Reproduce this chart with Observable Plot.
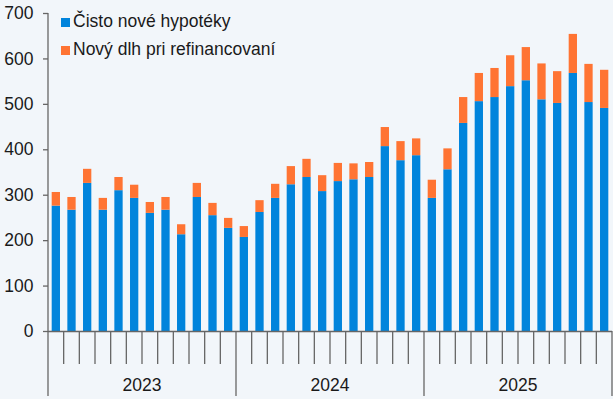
<!DOCTYPE html>
<html>
<head>
<meta charset="utf-8">
<script src="https://cdn.jsdelivr.net/npm/d3@7"></script>
<script src="https://cdn.jsdelivr.net/npm/@observablehq/plot@0.6"></script>
<style>
  html, body { margin: 0; padding: 0; background: #f2f6fa; }
  #wrap { position: relative; width: 613px; height: 399px; font-family: "Liberation Sans", Arial, sans-serif; }
  #legend { position: absolute; left: 61px; top: 7px; font-size: 17.5px; color: #1a1a1a; line-height: 28px; z-index: 2; }
  #legend .sw { display: inline-block; width: 9px; height: 9px; margin-right: 3px; vertical-align: 0px; }
</style>
</head>
<body>
<div id="wrap"><div id="legend"></div></div>
<script>
const years = ["2023", "2024", "2025"];
const months = ["01","02","03","04","05","06","07","08","09","10","11","12"];
const seriesNames = ["Čisto nové hypotéky", "Nový dlh pri refinancovaní"];
const colors = ["#0084dc", "#ff7433"];
// Čisto nové hypotéky (blue), monthly 2023-01 .. 2025-12
const newLoans = [276, 267, 326, 267, 310, 293, 260, 267, 213, 295, 255, 227,
                  207, 262, 293, 323, 339, 308, 330, 334, 339, 407, 376, 387,
                  293, 356, 458, 506, 515, 539, 552, 510, 502, 568, 504, 491];
// Nový dlh pri refinancovaní (orange)
const refiLoans = [30, 28, 31, 26, 29, 29, 24, 28, 22, 31, 27, 22,
                   24, 26, 31, 40, 40, 35, 40, 35, 33, 42, 42, 37,
                   40, 46, 57, 62, 64, 68, 73, 79, 70, 86, 84, 84];
const yTicks = [0, 100, 200, 300, 400, 500, 600, 700];

const periods = years.flatMap(y => months.map(m => `${y}-${m}`));
const data = [];
periods.forEach((p, i) => {
  data.push({period: p, series: seriesNames[0], value: newLoans[i]});
  data.push({period: p, series: seriesNames[1], value: refiLoans[i]});
});

const W = 613, H = 399;
const FS = 17.5;
const chart = Plot.plot({
  width: W, height: H,
  marginLeft: 48, marginRight: 1, marginTop: 13, marginBottom: 68,
  style: {background: "transparent", fontFamily: "Liberation Sans, Arial, sans-serif", fontSize: FS + "px", color: "#1a1a1a"},
  x: {domain: periods, paddingInner: 0.47, paddingOuter: 0.235, round: false, axis: null},
  y: {domain: [0, 700], label: null},
  color: {domain: seriesNames, range: colors},
  marks: [
    Plot.barY(data, {x: "period", y: "value", fill: "series", order: seriesNames}),
    Plot.axisY({ticks: yTicks, tickSize: 5, tickPadding: 10, label: null, tickFormat: d => String(d),
                fontSize: FS, stroke: "#666", strokeWidth: 1.3, fill: "#1a1a1a"}),
    Plot.ruleY([0], {stroke: "#666", strokeWidth: 1.3})
  ]
});

const svg = d3.select(chart);
svg.selectAll("[aria-label='y-axis tick']").attr("stroke", "#666").attr("stroke-width", 1.3);
svg.selectAll("[aria-label='y-axis tick label']").attr("fill", "#1a1a1a");

const xs = chart.scale("x");
const ys = chart.scale("y");
const step = xs.step, bw = xs.bandwidth;
const gap = (step - bw) / 2;
const y0 = ys.apply(0);
const yTop = ys.apply(700);
const g = svg.append("g").attr("stroke", "#666").attr("stroke-width", 1.3);
// y axis line
const xLeft = xs.apply(periods[0]) - gap;
g.append("line").attr("x1", xLeft).attr("x2", xLeft).attr("y1", yTop).attr("y2", H - 3);
// month & year separators
periods.forEach((p, i) => {
  if (i === 0) return;
  const xb = xs.apply(p) - gap;
  const isYear = p.endsWith("-01");
  g.append("line").attr("x1", xb).attr("x2", xb).attr("y1", y0).attr("y2", isYear ? H - 3 : y0 + 33);
});
const xRight = xs.apply(periods[periods.length - 1]) + bw + gap;
g.append("line").attr("x1", xRight).attr("x2", xRight).attr("y1", y0).attr("y2", H - 3);
// year labels
years.forEach(y => {
  const a = xs.apply(`${y}-01`) - gap;
  const b = xs.apply(`${y}-12`) + bw + gap;
  svg.append("text").attr("x", (a + b) / 2).attr("y", y0 + 60)
    .attr("text-anchor", "middle").attr("fill", "#1a1a1a")
    .style("font-size", FS + "px").text(y);
});

document.getElementById("wrap").appendChild(chart);
chart.style.position = "absolute"; chart.style.left = "0"; chart.style.top = "0";
const legend = document.getElementById("legend");
seriesNames.forEach((n, i) => {
  const row = document.createElement("div");
  row.innerHTML = `<span class="sw" style="background:${colors[i]}"></span>${n}`;
  legend.appendChild(row);
});
</script>
</body>
</html>
